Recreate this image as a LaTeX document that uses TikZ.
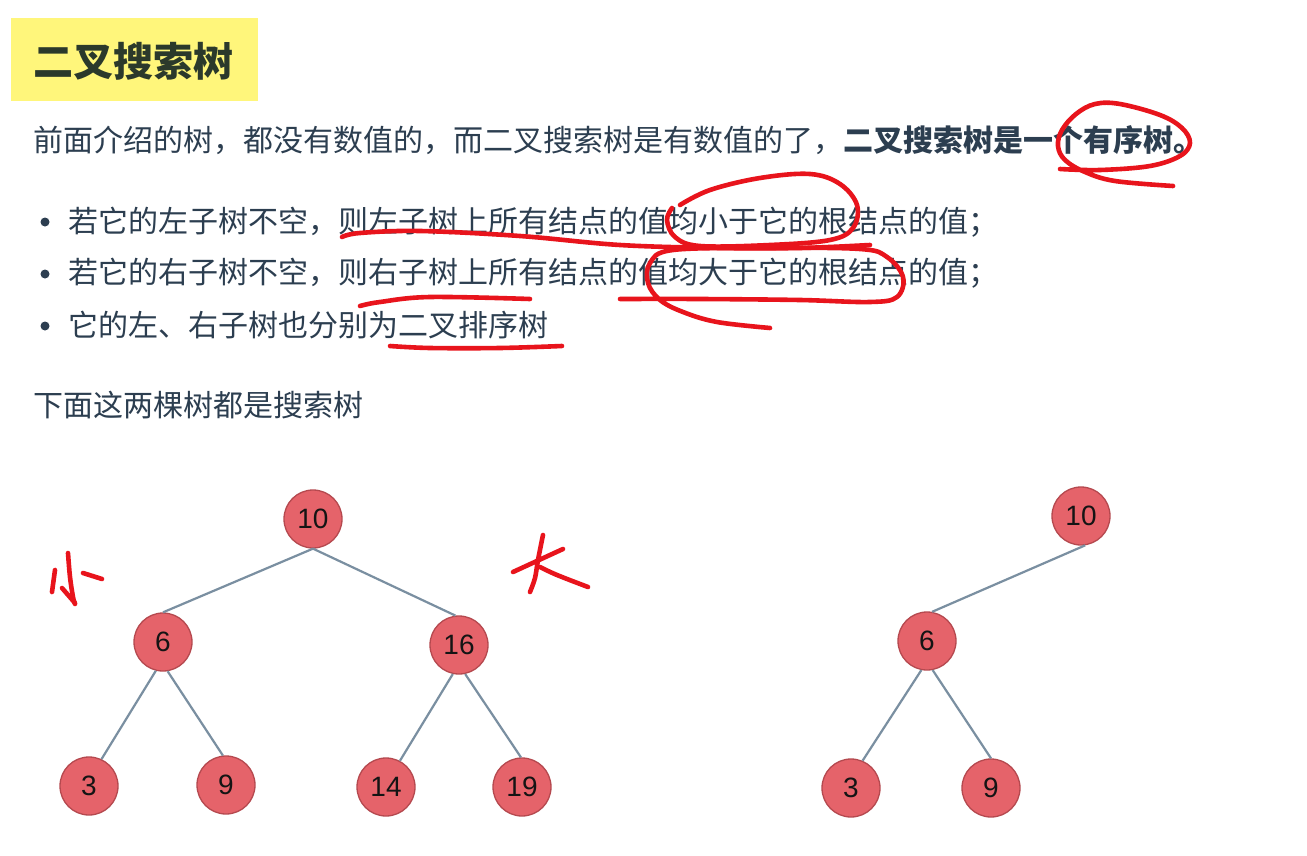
\documentclass[tikz,border=0pt]{standalone}
\usepackage{fontspec}
\newfontfamily\cjk{Noto Sans CJK SC}
\newfontfamily\numfont{Liberation Sans}
\definecolor{ink}{HTML}{2C3E50}
\definecolor{titleink}{HTML}{2B392B}
\definecolor{titlebg}{HTML}{FFF67B}
\definecolor{nodefill}{HTML}{E5636A}
\definecolor{nodeedge}{HTML}{B5494F}
\definecolor{linkcol}{HTML}{7A8FA1}
\definecolor{penred}{HTML}{E8141C}
\begin{document}
\begin{tikzpicture}[x=1pt,y=-1pt,
  txt/.style={anchor=base west, inner sep=0pt, text=ink, font=\cjk\fontsize{30}{36}\selectfont},
  titletxt/.style={anchor=base west, inner sep=0pt, text=titleink, font=\cjk\bfseries\fontsize{40}{48}\selectfont},
  keynode/.style={circle, draw=nodeedge, fill=nodefill, line width=1.3pt, minimum size=58pt, inner sep=0pt,
    font=\numfont\fontsize{28}{30}\selectfont, text=black!92},
  link/.style={draw=linkcol, line width=2.2pt},
  pen/.style={draw=penred, line width=4.6pt, line cap=round, line join=round}]
\useasboundingbox (0,0) rectangle (1307,856);
\fill[white] (0,0) rectangle (1307,856);

% heading
\fill[titlebg] (11,18) rectangle (258,101);
\node[titletxt] (title) at (33,77) {二叉搜索树};

% body text
\node[txt] (intro) at (33,151.5) {前面介绍的树，都没有数值的，而二叉搜索树是有数值的了，{\bfseries 二叉搜索树是一个有序树。}};
\fill[ink] (45,222) circle (4.5pt);
\fill[ink] (45,274) circle (4.5pt);
\fill[ink] (45,326) circle (4.5pt);
\node[txt] (rule1) at (68,232.5) {若它的左子树不空，则左子树上所有结点的值均小于它的根结点的值；};
\node[txt] (rule2) at (68,283.5) {若它的右子树不空，则右子树上所有结点的值均大于它的根结点的值；};
\node[txt] (rule3) at (68,336.5) {它的左、右子树也分别为二叉排序树};
\node[txt] (both) at (33,416.5) {下面这两棵树都是搜索树};

% left tree
\node[keynode] (l10) at (313,519) {10};
\node[keynode] (l6)  at (163,642) {6};
\node[keynode] (l16) at (459,645) {16};
\node[keynode] (l3)  at (89,786)  {3};
\node[keynode] (l9)  at (226,785) {9};
\node[keynode] (l14) at (386,787) {14};
\node[keynode] (l19) at (522,787) {19};
\path[link] (l10.south) -- (l6.north);
\path[link] (l10.south) -- (l16.97);
\path[link] (l6.256) -- (l3.65);
\path[link] (l6.279) -- (l9.96);
\path[link] (l16.258) -- (l14.62);
\path[link] (l16.282) -- (l19.92);

% right tree
\node[keynode] (r10) at (1081,516) {10};
\node[keynode] (r6)  at (927,641)  {6};
\node[keynode] (r3)  at (851,788)  {3};
\node[keynode] (r9)  at (991,788)  {9};
\path[link] (r10.278) -- (r6.80);
\path[link] (r6.259) -- (r3.67);
\path[link] (r6.281) -- (r9.north);

% red pen marks
\draw[pen] plot[smooth, tension=0.6] coordinates {(1060,169) (1100,170) (1150,166) (1180,156) (1190,143) (1182,128) (1160,115) (1120,104) (1095,104) (1076,114) (1062,130) (1058,146) (1065,160) (1085,172) (1115,181) (1173,186)};
\draw[pen] plot[smooth, tension=0.6] coordinates {(342,237) (360,233) (420,231) (520,236) (620,245) (720,248) (800,248) (870,245)};
\draw[pen] plot[smooth, tension=0.6] coordinates {(680,205) (710,190) (760,178) (810,174) (840,184) (857,205) (853,228) (830,240) (770,245) (700,246) (675,237) (667,220) (672,208)};
\draw[pen] plot[smooth, tension=0.6] coordinates {(620,299) (700,299) (800,300) (870,302) (897,297) (903,277) (887,257) (860,249) (767,248) (673,250) (650,263) (648,283) (660,300) (683,312) (717,322) (770,328)};
\draw[pen] plot[smooth, tension=0.6] coordinates {(360,306) (380,302) (430,297) (530,299)};
\draw[pen] plot[smooth, tension=0.6] coordinates {(390,346) (430,348) (500,348) (562,346)};
% 小
\draw[pen] plot[smooth, tension=0.6] coordinates {(68,553) (70,577) (73,597) (75,604)};
\draw[pen] (62,588) -- (75,603);
\draw[pen] (55,570) -- (52,592);
\draw[pen] (83,573) -- (102,579);
% 大
\draw[pen] (513,572) -- (563,549);
\draw[pen] plot[smooth, tension=0.6] coordinates {(543,535) (538,560) (535,578) (530,592)};
\draw[pen] plot[smooth, tension=0.6] coordinates {(540,567) (557,575) (588,587)};
\end{tikzpicture}
\end{document}
